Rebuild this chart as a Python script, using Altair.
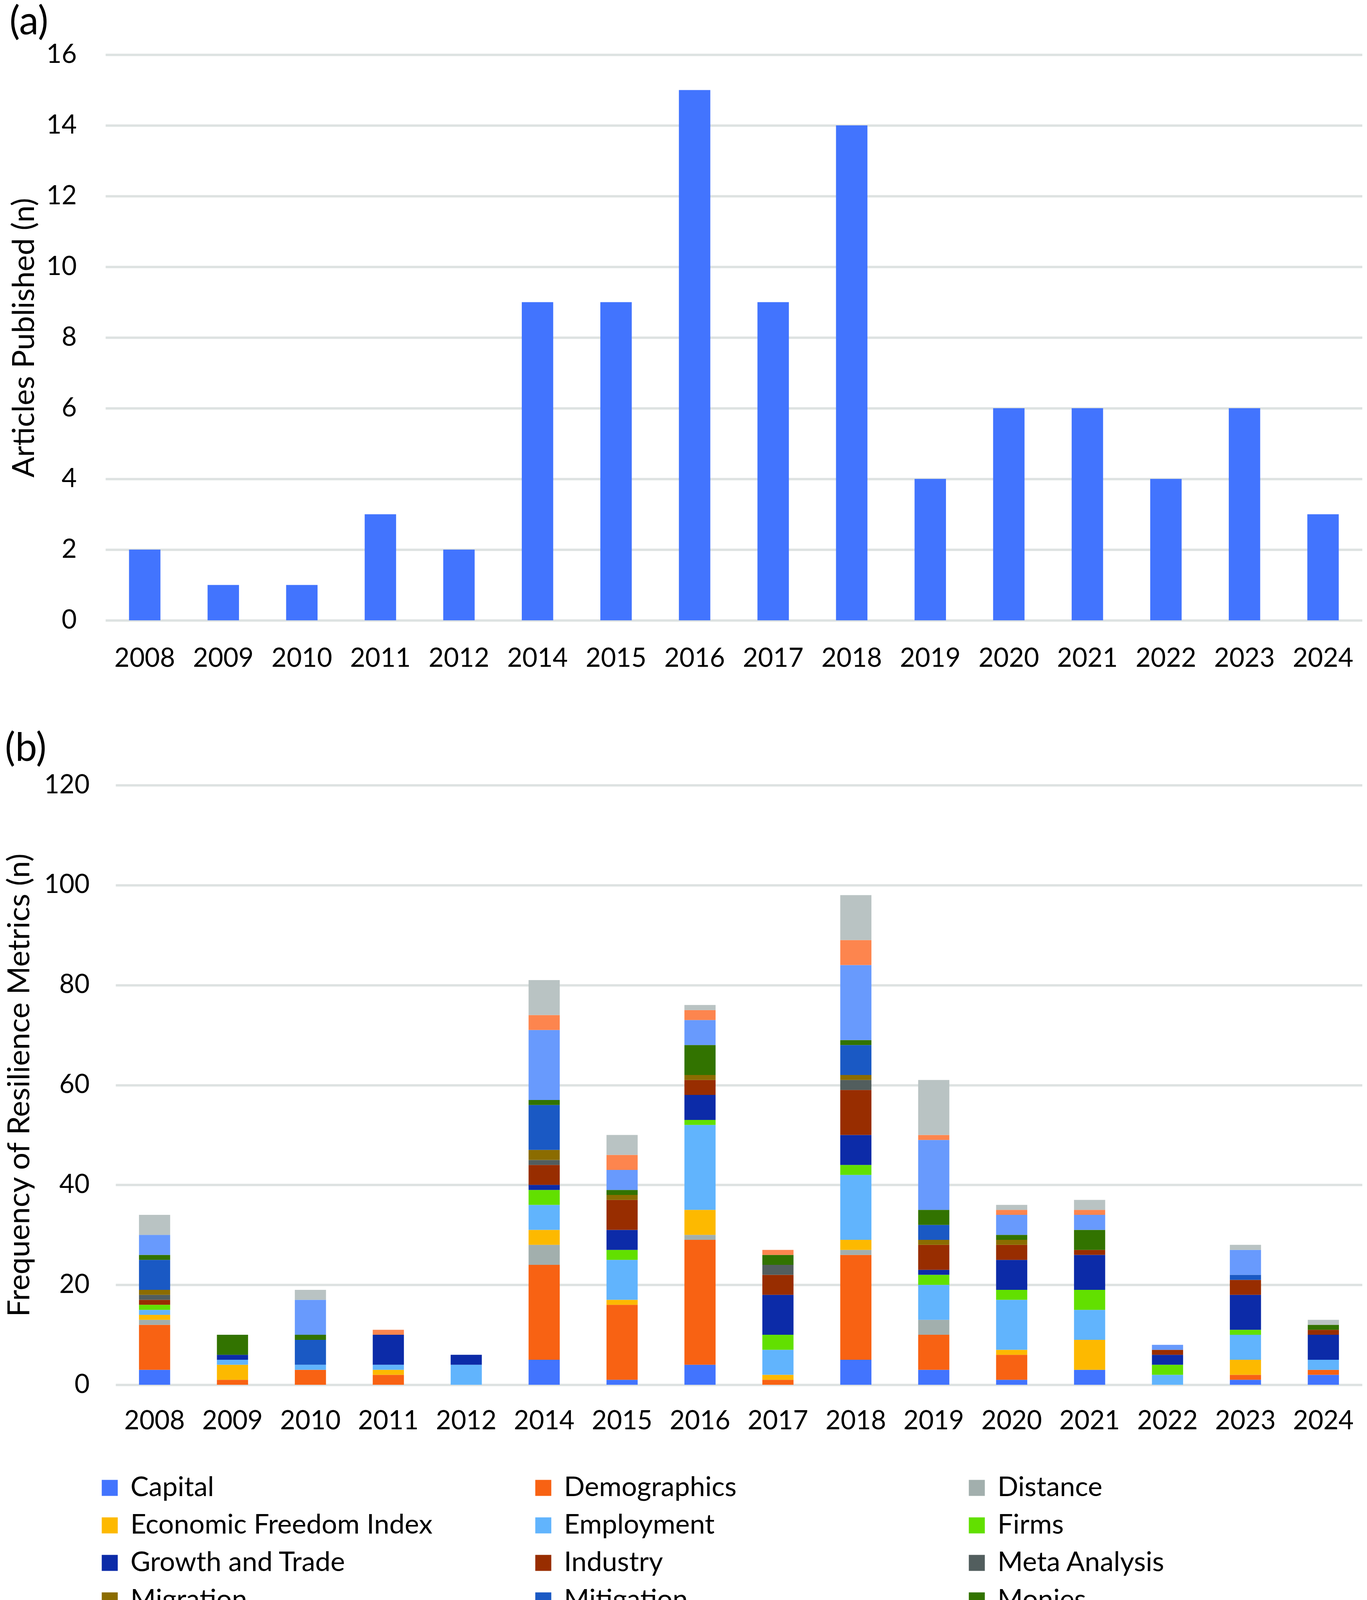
import altair as alt
import pandas as pd

years = ["2008", "2009", "2010", "2011", "2012", "2014", "2015", "2016",
         "2017", "2018", "2019", "2020", "2021", "2022", "2023", "2024"]
articles = [2, 1, 1, 3, 2, 9, 9, 15, 9, 14, 4, 6, 6, 4, 6, 3]

categories = ["Capital", "Demographics", "Distance", "Economic Freedom Index",
              "Employment", "Firms", "Growth and Trade", "Industry",
              "Meta Analysis", "Migration", "Mitigation", "Monies",
              "Physical Amenities", "Population", "Socio Economic Amenities"]
colors = ["#4274FE", "#F86213", "#A2AFAD", "#FDB900", "#61B4FD", "#62E000",
          "#0C2BA8", "#982D00", "#525E5E", "#8B6C00", "#1A59C4", "#327300",
          "#689AFD", "#FD854E", "#B9C3C3"]

capital      = [3, 0, 0, 0, 0, 5, 1, 4, 0, 5, 3, 1, 3, 0, 1, 2]
demographics = [9, 1, 3, 2, 0, 19, 15, 25, 1, 21, 7, 5, 0, 0, 1, 1]
distance     = [1, 0, 0, 0, 0, 4, 0, 1, 0, 1, 3, 0, 0, 0, 0, 0]
econ_freedom = [1, 3, 0, 1, 0, 3, 1, 5, 1, 2, 0, 1, 6, 0, 3, 0]
employment   = [1, 1, 1, 1, 4, 5, 8, 17, 5, 13, 7, 10, 6, 2, 5, 2]
firms        = [1, 0, 0, 0, 0, 3, 2, 1, 3, 2, 2, 2, 4, 2, 1, 0]
growth_trade = [0, 1, 0, 6, 2, 1, 4, 5, 8, 6, 1, 6, 7, 2, 7, 5]
industry     = [1, 0, 0, 0, 0, 4, 6, 3, 4, 9, 5, 3, 1, 1, 3, 1]
meta         = [1, 0, 0, 0, 0, 1, 0, 0, 2, 2, 0, 0, 0, 0, 0, 0]
migration    = [1, 0, 0, 0, 0, 2, 1, 1, 0, 1, 1, 1, 0, 0, 0, 0]
mitigation   = [6, 0, 5, 0, 0, 9, 0, 0, 0, 6, 3, 0, 0, 0, 1, 0]
monies       = [1, 4, 1, 0, 0, 1, 1, 6, 2, 1, 3, 1, 4, 0, 0, 1]
physical     = [4, 0, 7, 0, 0, 14, 4, 5, 0, 15, 14, 4, 3, 1, 5, 0]
population   = [0, 0, 0, 1, 0, 3, 3, 2, 1, 5, 1, 1, 1, 0, 0, 0]
socio        = [4, 0, 2, 0, 0, 7, 4, 1, 0, 9, 11, 1, 2, 0, 1, 1]

series = [capital, demographics, distance, econ_freedom, employment, firms,
          growth_trade, industry, meta, migration, mitigation, monies,
          physical, population, socio]

FONT = "Lato"
FS_TICK = 67
FS_TITLE = 78
FS_LEG = 70
FS_PANEL = 100
GRID = "#DDE2E1"
W = 3218

df_a = pd.DataFrame({"year": years, "n": articles})

rows = []
for i, (cat, vals) in enumerate(zip(categories, series)):
    for y, v in zip(years, vals):
        if v > 0:
            rows.append({"year": y, "category": cat, "value": v, "idx": i})
df_b = pd.DataFrame(rows)

chart_a = alt.Chart(df_a).mark_bar(color="#4274FE").encode(
    x=alt.X("year:N", sort=years,
            scale=alt.Scale(paddingInner=0.6, paddingOuter=0.3),
            axis=alt.Axis(title=None, labelAngle=0, domain=False, ticks=False,
                          grid=False, labelPadding=65)),
    y=alt.Y("n:Q", scale=alt.Scale(domain=[0, 16], nice=False),
            axis=alt.Axis(title="Articles Published (n)", values=list(range(0, 17, 2)),
                          domain=False, ticks=False, labelPadding=74, titlePadding=16,
                          gridColor=GRID, gridWidth=6)),
).properties(
    width=W, height=1448,
    title=alt.TitleParams("(a)", anchor="start", frame="bounds", fontSize=FS_PANEL,
                          fontWeight="normal", font=FONT, color="#000000",
                          offset=-15, dy=-12),
)

chart_b = alt.Chart(df_b).mark_bar().encode(
    x=alt.X("year:N", sort=years,
            scale=alt.Scale(paddingInner=0.6, paddingOuter=0.3, range=[26, W]),
            axis=alt.Axis(title=None, labelAngle=0, domain=False, ticks=False,
                          grid=False, labelPadding=60)),
    y=alt.Y("value:Q", stack="zero", scale=alt.Scale(domain=[0, 120], nice=False),
            axis=alt.Axis(title="Frequency of Resilience Metrics (n)",
                          values=list(range(0, 121, 20)), domain=False, ticks=False,
                          labelPadding=41, titlePadding=22,
                          gridColor=GRID, gridWidth=6)),
    color=alt.Color("category:N", sort=categories,
                    scale=alt.Scale(domain=categories, range=colors),
                    legend=alt.Legend(title=None, orient="none", legendX=-24, legendY=1764,
                                      direction="horizontal", columns=3, gridAlign="all",
                                      columnPadding=212, rowPadding=26,
                                      symbolType="square", symbolSize=1680,
                                      symbolStrokeWidth=0, labelOffset=18,
                                      labelFontSize=FS_LEG, labelFont=FONT,
                                      labelColor="#000000", labelLimit=2000)),
    order=alt.Order("idx:Q", sort="ascending"),
).properties(
    width=W, height=1535,
    title=alt.TitleParams("(b)", anchor="start", frame="bounds", fontSize=FS_PANEL,
                          fontWeight="normal", font=FONT, color="#000000",
                          offset=-15, dy=-22),
)

chart = alt.vconcat(chart_a, chart_b, spacing=149).resolve_scale(
    color="independent"
).properties(
    padding={"left": 4, "top": 0, "right": 0, "bottom": 0}
).configure_view(
    strokeWidth=0
).configure_axis(
    labelFont=FONT, titleFont=FONT, labelFontSize=FS_TICK, titleFontSize=FS_TITLE,
    labelColor="#000000", titleColor="#000000", titleFontWeight="normal"
)

chart.save("out.html", embed_options={"renderer": "svg", "actions": False})
